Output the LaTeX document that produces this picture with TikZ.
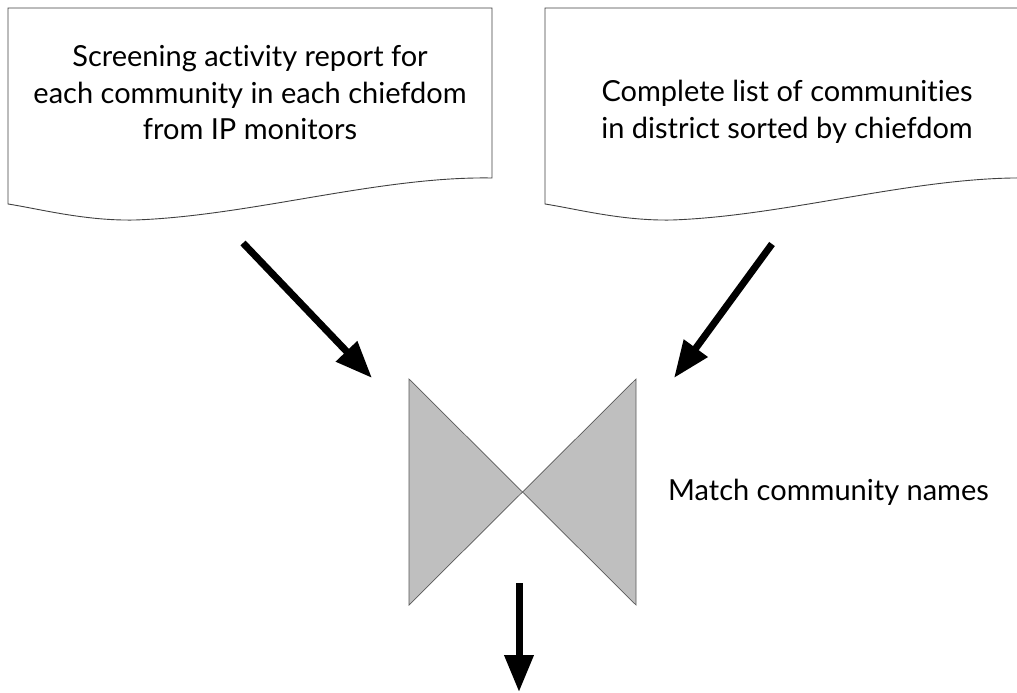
\documentclass[tikz,border=0pt]{standalone}
\usepackage{fontspec}
\setmainfont{Lato}[Ligatures=NoCommon]
\usetikzlibrary{arrows.meta}
\tikzset{
  docshape/.style={draw=black!75, line width=0.9pt, fill=white},
  collate/.style={draw=black!65, line width=0.7pt, fill=black!25},
  flow/.style={line width=7pt, -{Triangle[length=37pt,width=28pt]}},
  doctext/.style={align=center, font=\fontsize{29}{36.5}\selectfont, inner sep=0pt},
  labeltext/.style={font=\fontsize{29}{34}\selectfont, inner sep=0pt, anchor=west}
}
\begin{document}
\begin{tikzpicture}[x=1pt,y=-1pt]
\useasboundingbox (0,0) rectangle (1017,693);
\clip (0,0) rectangle (1017,693);

% input document: screening report
\draw[docshape] (8,8) -- (492,8) -- (492,178)
  .. controls (380,176) and (250,216) .. (135,220)
  .. controls (85,221) and (40,209) .. (8,204) -- cycle;
\node[doctext] (report) at (250,93)
  {Screening activity report for\\each community in each chiefdom\\from IP monitors};

% input document: list of communities
\draw[docshape] (545,8) -- (1029,8) -- (1029,178)
  .. controls (917,176) and (787,216) .. (672,220)
  .. controls (622,221) and (577,209) .. (545,204) -- cycle;
\node[doctext] (list) at (787,112)
  {Complete list of communities\\in district sorted by chiefdom};

% collate symbol
\coordinate (mid) at (522.5,492);
\draw[collate] (409,379) -- (636,605) -- (636,379) -- (409,605) -- cycle;
\node[labeltext] (match) at (668,492) {Match community names};

% connectors
\coordinate (inA) at (243,243);
\coordinate (tipA) at (372,378);
\coordinate (inB) at (772,244);
\coordinate (tipB) at (674,378);
\coordinate (outS) at (519,583);
\coordinate (outE) at (519,692);
\draw[flow] (inA) -- (tipA);
\draw[flow] (inB) -- (tipB);
\draw[flow] (outS) -- (outE);
\end{tikzpicture}
\end{document}
